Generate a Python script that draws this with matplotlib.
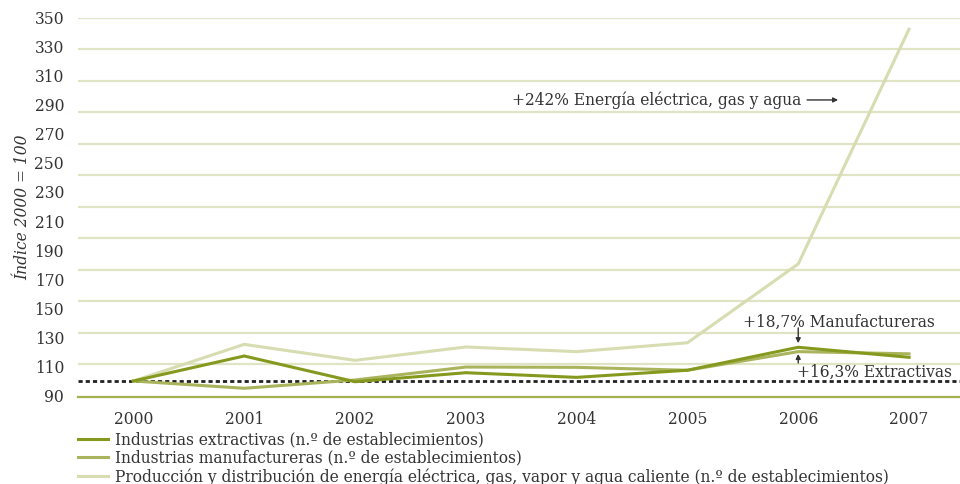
import matplotlib
matplotlib.use("Agg")
import matplotlib.pyplot as plt
import numpy as np

# data (index 2000 = 100)
years = ["2000", "2001", "2002", "2003", "2004", "2005", "2006", "2007"]
extractivas = [100, 117.2, 99.5, 105.7, 102.5, 107.4, 123.2, 116.3]
manufactureras = [100, 95.0, 100.7, 109.6, 109.4, 107.4, 120.2, 118.7]
energia = [100, 125.2, 114.2, 123.4, 120.2, 126.3, 180.5, 342.0]

labels = ["Industrias extractivas (n.º de establecimientos)",
          "Industrias manufactureras (n.º de establecimientos)",
          "Producción y distribución de energía eléctrica, gas, vapor y agua caliente (n.º de establecimientos)"]
colors = ["#84991e", "#aab45c", "#d7dcb1"]

plt.rcParams['font.family'] = ['DejaVu Serif']
txt = "#333333"
fs = 11.2

fig = plt.figure(figsize=(9.6, 4.84), dpi=100)
ax = fig.add_axes([78/960, 1-397/484, 1-78/960, (397-17.5)/484])

x = np.arange(len(years))

# decorative grid
for g in np.linspace(90, 350, 13)[1:]:
    ax.axhline(g, color="#e0e4c4", lw=1.6, zorder=0)

ax.axhline(100, color="#222222", lw=2.0, linestyle=(0, (1.5, 1.1)), zorder=1)

lines = []
for series, c, lab in zip([extractivas, manufactureras, energia], colors, labels):
    l, = ax.plot(x, series, color=c, lw=2.2, label=lab, zorder=3 if c == colors[0] else 2)
    lines.append(l)

ax.set_xlim(-0.5, 7.46)
ax.set_ylim(89, 350)
ax.set_xticks(x)
ax.set_xticklabels(years)
ax.set_yticks(np.arange(90, 351, 20))
ax.tick_params(length=0, labelsize=fs, colors=txt, pad=10)
ax.tick_params(axis='y', pad=10)

for s in ["top", "right", "left"]:
    ax.spines[s].set_visible(False)
ax.spines["bottom"].set_color("#a5b04f")
ax.spines["bottom"].set_linewidth(1.6)

fig.text(23/960, 1-207/484, "Índice 2000 = 100", rotation=90, ha="center", va="center",
         fontsize=fs, style="italic", color=txt)

# annotations
arrow = dict(arrowstyle="-|>", color=txt, lw=1, mutation_scale=7, shrinkA=0, shrinkB=0)
ax.text(6.03, 293.3, "+242% Energía eléctrica, gas y agua", ha="right", va="center",
        fontsize=fs, color=txt)
ax.annotate("", xy=(6.36, 293.3), xytext=(6.08, 293.3), arrowprops=arrow)
ax.text(5.5, 140.6, "+18,7% Manufactureras", ha="left", va="center", fontsize=fs, color=txt)
ax.annotate("", xy=(6, 126.0), xytext=(6, 136.5), arrowprops=arrow)
ax.text(5.99, 105.7, "+16,3% Extractivas", ha="left", va="center", fontsize=fs, color=txt)
ax.annotate("", xy=(6, 118.6), xytext=(6, 112.4), arrowprops=arrow)

leg = fig.legend(handles=lines, loc="upper left", bbox_to_anchor=(78/960, 1-431/484),
                 frameon=False, fontsize=fs, handlelength=1.9, handletextpad=0.45,
                 labelspacing=0.1, borderpad=0, borderaxespad=0)
for t in leg.get_texts():
    t.set_color(txt)

fig.savefig("out.png", dpi=100)
